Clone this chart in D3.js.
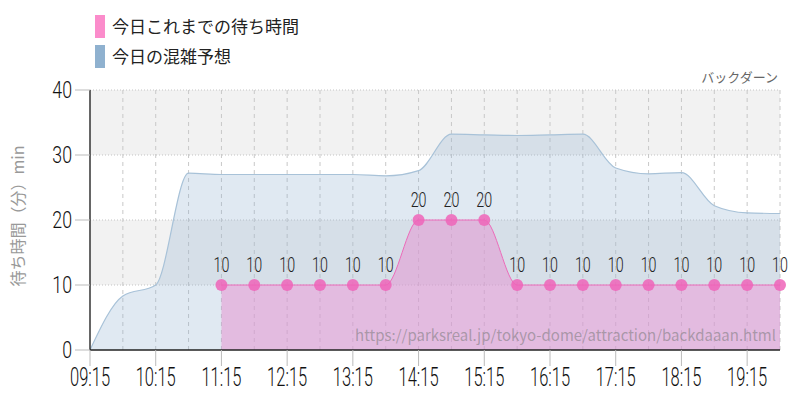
<!DOCTYPE html>
<html><head><meta charset="utf-8">
<script src="https://cdn.jsdelivr.net/npm/d3@7"></script>
<style>
html,body{margin:0;padding:0;background:#fff;}
svg{display:block;}
.num{font-family:Roboto,"Noto Sans",sans-serif;font-weight:300;}
.jp{font-family:"Noto Sans CJK JP","Noto Sans",sans-serif;}
</style></head>
<body>
<svg id="c" width="800" height="400"></svg>
<script>
const legendLabels = ["今日これまでの待ち時間", "今日の混雑予想"];
const legendColors = ["#fb8ccb", "#8fb1cf"];
const xTickLabels = ["09:15","10:15","11:15","12:15","13:15","14:15","15:15","16:15","17:15","18:15","19:15"];
const yTicks = [0,10,20,30,40];
const forecastTimes = ["09:15","09:45","10:15","10:45","11:15","11:45","12:15","12:45","13:15","13:45","14:15","14:45","15:15","15:45","16:15","16:45","17:15","17:45","18:15","18:45","19:15","19:45"];
const forecastValues = [0,8.3,10,27.2,27,27,27,27,27,26.8,27.6,33.2,33.1,33,33.1,33.2,28,27.1,27.3,22.2,21.1,21];
const actualTimes = ["11:15","11:45","12:15","12:45","13:15","13:45","14:15","14:45","15:15","15:45","16:15","16:45","17:15","17:45","18:15","18:45","19:15","19:45"];
const actualValues = [10,10,10,10,10,10,20,20,20,10,10,10,10,10,10,10,10,10];
const xDomain = ["09:15","19:45"];
const yTitle = "待ち時間（分）min";
const topRight = "バックダーン";
const watermark = "https://parksreal.jp/tokyo-dome/attraction/backdaaan.html";

const toMin = s => { const [h,m] = s.split(":").map(Number); return h*60+m; };
const svg = d3.select("#c");
const L = 90, R = 780, T = 90, B = 350;
const x = d3.scaleLinear().domain(xDomain.map(toMin)).range([L, R]);
const y = d3.scaleLinear().domain([0, 40]).range([B, T]);

// bands
for (let i = 0; i < yTicks.length - 1; i++) {
  if (i % 2 === 1) {
    svg.append("rect").attr("x", L).attr("width", R - L)
      .attr("y", y(yTicks[i+1])).attr("height", y(yTicks[i]) - y(yTicks[i+1]))
      .attr("fill", "#f2f2f2");
  }
}
// vertical dashed grid every 30 min
const halfHours = d3.range(toMin(xDomain[0]) + 30, toMin(xDomain[1]) + 1, 30);
svg.append("g").selectAll("line").data(halfHours).join("line")
  .attr("x1", d => x(d)).attr("x2", d => x(d)).attr("y1", T).attr("y2", B)
  .attr("stroke", "#c8c8c8").attr("stroke-dasharray", "4,4").attr("stroke-width", 1);
// horizontal dotted grid
svg.append("g").selectAll("line").data(yTicks.slice(1)).join("line")
  .attr("x1", L).attr("x2", R).attr("y1", d => y(d)).attr("y2", d => y(d))
  .attr("stroke", "#c4c4c4").attr("stroke-dasharray", "1,2").attr("stroke-width", 1);

// forecast area
const fData = forecastTimes.map((t, i) => ({ t: toMin(t), v: forecastValues[i] }));
const area = d3.area().x(d => x(d.t)).y0(y(0)).y1(d => y(d.v)).curve(d3.curveMonotoneX);
const line = d3.line().x(d => x(d.t)).y(d => y(d.v)).curve(d3.curveMonotoneX);
svg.append("path").datum(fData).attr("d", area).attr("fill", "rgba(143,177,207,0.28)");
svg.append("path").datum(fData).attr("d", line).attr("fill", "none")
  .attr("stroke", "#a8c2d8").attr("stroke-width", 1.2);

// actual area
const aData = actualTimes.map((t, i) => ({ t: toMin(t), v: actualValues[i] }));
svg.append("path").datum(aData).attr("d", area).attr("fill", "rgba(230,150,210,0.55)");
svg.append("path").datum(aData).attr("d", line).attr("fill", "none")
  .attr("stroke", "#ec6cba").attr("stroke-width", 1);

// watermark
svg.append("text").attr("x", 776).attr("y", 341).attr("text-anchor", "end")
  .attr("class", "jp").attr("font-size", 15).attr("fill", "rgba(120,120,120,0.55)")
  .text(watermark);

// dots
svg.append("g").selectAll("circle").data(aData).join("circle")
  .attr("cx", d => x(d.t)).attr("cy", d => y(d.v)).attr("r", 6)
  .attr("fill", "rgba(238,100,184,0.85)");
// labels
svg.append("g").selectAll("text").data(aData).join("text")
  .attr("class", "num").attr("transform", d => `translate(${x(d.t)},${y(d.v) - 13}) scale(0.68,1)`)
  .attr("text-anchor", "middle").attr("font-size", 21).attr("fill", "#222")
  .text(d => d.v);

// axes
svg.append("line").attr("x1", L).attr("x2", L).attr("y1", T).attr("y2", B)
  .attr("stroke", "#333").attr("stroke-width", 1.5);
svg.append("line").attr("x1", L).attr("x2", R).attr("y1", B).attr("y2", B)
  .attr("stroke", "#222").attr("stroke-width", 1.5);
// y ticks
svg.append("g").selectAll("line").data(yTicks).join("line")
  .attr("x1", L - 15).attr("x2", L).attr("y1", d => y(d)).attr("y2", d => y(d))
  .attr("stroke", "#bbb");
svg.append("g").selectAll("text").data(yTicks).join("text")
  .attr("class", "num").attr("transform", d => `translate(${L - 18},${y(d) + 8}) scale(0.74,1)`)
  .attr("text-anchor", "end").attr("font-size", 24).attr("fill", "#111").text(d => d);
// x ticks
svg.append("g").selectAll("line").data(xTickLabels).join("line")
  .attr("x1", d => x(toMin(d))).attr("x2", d => x(toMin(d))).attr("y1", B).attr("y2", B + 16)
  .attr("stroke", "#bbb");
svg.append("g").selectAll("text").data(xTickLabels).join("text")
  .attr("class", "num").attr("transform", d => `translate(${x(toMin(d))},${B + 36}) scale(0.66,1)`)
  .attr("text-anchor", "middle").attr("font-size", 25).attr("fill", "#111").text(d => d);

// y title
svg.append("text").attr("class", "jp")
  .attr("transform", `translate(24,${(T + B) / 2 - 4}) rotate(-90)`)
  .attr("text-anchor", "middle").attr("font-size", 16).attr("fill", "#999").text(yTitle);
// top right
svg.append("text").attr("class", "jp").attr("x", 778).attr("y", 82).attr("text-anchor", "end")
  .attr("font-size", 13).attr("fill", "#666").text(topRight);

// legend
legendLabels.forEach((lab, i) => {
  svg.append("rect").attr("x", 95).attr("y", 15 + i * 30).attr("width", 10).attr("height", 23)
    .attr("fill", legendColors[i]);
  svg.append("text").attr("class", "jp").attr("x", 112).attr("y", 33 + i * 30)
    .attr("font-size", 17).attr("fill", "#222").text(lab);
});
</script>
</body></html>
